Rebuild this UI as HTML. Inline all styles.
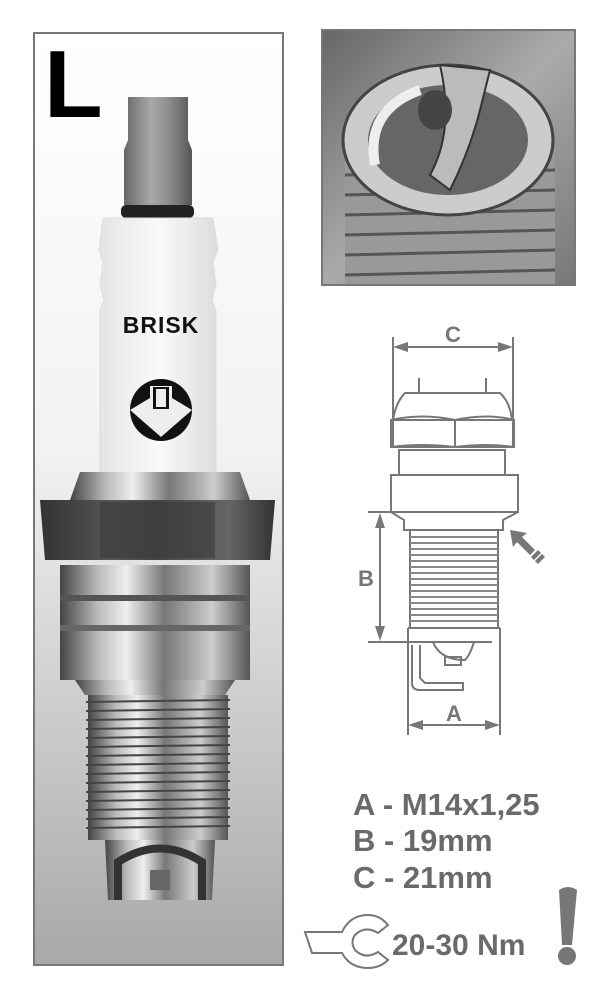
<!DOCTYPE html>
<html><head><style>
html,body{margin:0;padding:0;background:#fff;}
body{width:605px;height:1000px;position:relative;overflow:hidden;font-family:"Liberation Sans",sans-serif;}
</style></head><body>
<svg width="605" height="1000" viewBox="0 0 605 1000" xmlns="http://www.w3.org/2000/svg" style="position:absolute;left:0;top:0">
<defs>
<linearGradient id="bg" x1="0" y1="0" x2="0" y2="1">
<stop offset="0" stop-color="#ffffff"/><stop offset="0.45" stop-color="#f2f2f2"/><stop offset="1" stop-color="#a8a8a8"/>
</linearGradient>
<linearGradient id="metal" x1="0" y1="0" x2="1" y2="0">
<stop offset="0" stop-color="#444"/><stop offset="0.2" stop-color="#bbb"/><stop offset="0.35" stop-color="#eee"/><stop offset="0.55" stop-color="#777"/><stop offset="0.8" stop-color="#ccc"/><stop offset="1" stop-color="#555"/>
</linearGradient>
<linearGradient id="cap" x1="0" y1="0" x2="1" y2="0">
<stop offset="0" stop-color="#666"/><stop offset="0.4" stop-color="#aaa"/><stop offset="0.7" stop-color="#888"/><stop offset="1" stop-color="#555"/>
</linearGradient>
<linearGradient id="cer" x1="0" y1="0" x2="1" y2="0">
<stop offset="0" stop-color="#e4e4e4"/><stop offset="0.5" stop-color="#fafafa"/><stop offset="1" stop-color="#dcdcdc"/>
</linearGradient>
<linearGradient id="hex" x1="0" y1="0" x2="1" y2="0">
<stop offset="0" stop-color="#333"/><stop offset="0.3" stop-color="#555"/><stop offset="0.5" stop-color="#444"/><stop offset="0.8" stop-color="#666"/><stop offset="1" stop-color="#333"/>
</linearGradient>
<linearGradient id="photo" x1="0" y1="0" x2="1" y2="1">
<stop offset="0" stop-color="#666"/><stop offset="0.5" stop-color="#aaa"/><stop offset="1" stop-color="#777"/>
</linearGradient>
</defs>
<rect x="34" y="33" width="249" height="932" fill="url(#bg)" stroke="#777" stroke-width="2"/>
<text x="44" y="117" font-family="Liberation Sans" font-weight="bold" font-size="96" fill="#000">L</text>
<path d="M128 97 L188 97 L188 140 L192 150 L192 205 L124 205 L124 150 L128 140 Z" fill="url(#cap)"/>
<rect x="121" y="205" width="73" height="13" rx="5" fill="#222"/>
<path d="M103 218 L213 218 L218 250 L213 262 L216 285 L212 300 L216 310 L216 475 L100 475 L100 310 L104 300 L100 285 L103 262 L99 250 Z" fill="url(#cer)" stroke="#ddd"/>
<text x="161" y="333" text-anchor="middle" font-family="Liberation Sans" font-weight="bold" font-size="23" fill="#111" letter-spacing="1">BRISK</text>
<circle cx="161" cy="410" r="31" fill="#111"/>
<path d="M130 410 L150 398 L150 386 L172 386 L172 398 L192 410 L161 437 Z" fill="#eee"/>
<rect x="153" y="387" width="16" height="22" fill="#111"/><rect x="156" y="389" width="10" height="18" fill="#eee"/>
<path d="M80 472 L240 472 L250 500 L70 500 Z" fill="url(#metal)"/>
<path d="M40 500 L275 500 L270 560 L45 560 Z" fill="url(#hex)"/>
<rect x="100" y="502" width="115" height="56" fill="#3a3a3a" opacity="0.6"/>
<rect x="60" y="565" width="190" height="115" fill="url(#metal)"/>
<rect x="60" y="595" width="190" height="6" fill="#555"/>
<rect x="60" y="625" width="190" height="6" fill="#666"/>
<path d="M75 680 L235 680 L225 695 L85 695 Z" fill="url(#metal)"/>
<rect x="88" y="695" width="140" height="145" fill="url(#metal)"/>
<g stroke="#444" stroke-width="2">
<line x1="86" y1="702" x2="230" y2="700"/><line x1="86" y1="711" x2="230" y2="709"/><line x1="86" y1="720" x2="230" y2="718"/><line x1="86" y1="729" x2="230" y2="727"/><line x1="86" y1="738" x2="230" y2="736"/><line x1="86" y1="747" x2="230" y2="745"/><line x1="86" y1="756" x2="230" y2="754"/><line x1="86" y1="765" x2="230" y2="763"/><line x1="86" y1="774" x2="230" y2="772"/><line x1="86" y1="783" x2="230" y2="781"/><line x1="86" y1="792" x2="230" y2="790"/><line x1="86" y1="801" x2="230" y2="799"/><line x1="86" y1="810" x2="230" y2="808"/><line x1="86" y1="819" x2="230" y2="817"/><line x1="86" y1="828" x2="230" y2="826"/>
</g>
<path d="M105 840 L215 840 L212 900 L108 900 Z" fill="url(#metal)"/>
<path d="M118 900 L118 862 Q160 835 202 862 L202 900" fill="none" stroke="#333" stroke-width="8"/>
<rect x="150" y="870" width="20" height="20" fill="#666"/>
<rect x="322" y="30" width="253" height="255" fill="url(#photo)" stroke="#777" stroke-width="2"/>
<rect x="345" y="150" width="210" height="134" fill="#999"/>
<g stroke="#555" stroke-width="3">
<line x1="345" y1="175" x2="555" y2="170"/><line x1="345" y1="195" x2="555" y2="190"/><line x1="345" y1="215" x2="555" y2="210"/><line x1="345" y1="235" x2="555" y2="230"/><line x1="345" y1="255" x2="555" y2="250"/><line x1="345" y1="275" x2="555" y2="270"/>
</g>
<ellipse cx="448" cy="140" rx="105" ry="75" fill="#ccc" stroke="#444" stroke-width="3"/>
<ellipse cx="448" cy="140" rx="80" ry="55" fill="#666"/>
<path d="M375 165 Q365 110 420 90" fill="none" stroke="#eee" stroke-width="10"/>
<path d="M440 65 L490 70 L480 110 Q470 150 450 190 L430 175 Q455 130 440 65 Z" fill="#bbb" stroke="#333" stroke-width="2"/>
<ellipse cx="435" cy="110" rx="17" ry="20" fill="#444"/>
<g stroke="#777" stroke-width="2" fill="none">
<line x1="393" y1="337" x2="393" y2="447"/><line x1="513" y1="337" x2="513" y2="447"/>
<line x1="400" y1="347" x2="506" y2="347"/>
<line x1="419" y1="378" x2="419" y2="393"/><line x1="486" y1="378" x2="486" y2="393"/>
<path d="M405 393 L500 393 Q510 402 512 420 L393 420 Q396 402 405 393 Z"/>
<path d="M391 420 L514 420 L514 447 L391 447 Z"/>
<path d="M391 420 Q422 413 455 420 Q488 413 514 420"/>
<path d="M391 447 Q422 443 455 447 Q488 443 514 447"/>
<line x1="455" y1="420" x2="455" y2="447"/>
<rect x="399" y="450" width="106" height="25"/>
<rect x="391" y="475" width="127" height="37"/>
<path d="M391 512 L404 520 L404 530 L503 530 L503 520 L518 512"/>
<line x1="368" y1="512" x2="391" y2="512"/>
<line x1="380" y1="520" x2="380" y2="634"/>
<line x1="368" y1="642" x2="492" y2="642"/>
<line x1="410" y1="530" x2="410" y2="628"/><line x1="498" y1="530" x2="498" y2="628"/>
<path d="M408 628 L408 735 M500 628 L500 735 M408 628 L500 628"/>
<path d="M412 645 L412 683 Q412 690 420 690 L463 690 L463 683 L425 683 L420 678 L420 645"/>
<path d="M433 642 Q440 660 465 660 Q470 655 474 642"/>
<rect x="445" y="657" width="16" height="8"/>
<line x1="415" y1="725" x2="493" y2="725"/>
</g>
<g stroke="#888" stroke-width="2">
<line x1="410" y1="537" x2="498" y2="537"/><line x1="410" y1="543" x2="498" y2="543"/><line x1="410" y1="549" x2="498" y2="549"/><line x1="410" y1="555" x2="498" y2="555"/><line x1="410" y1="561" x2="498" y2="561"/><line x1="410" y1="567" x2="498" y2="567"/><line x1="410" y1="573" x2="498" y2="573"/><line x1="410" y1="579" x2="498" y2="579"/><line x1="410" y1="585" x2="498" y2="585"/><line x1="410" y1="591" x2="498" y2="591"/><line x1="410" y1="597" x2="498" y2="597"/><line x1="410" y1="603" x2="498" y2="603"/><line x1="410" y1="609" x2="498" y2="609"/><line x1="410" y1="615" x2="498" y2="615"/><line x1="410" y1="621" x2="498" y2="621"/>
</g>
<g fill="#777">
<path d="M393 347 L408 342 L408 352 Z"/><path d="M513 347 L498 342 L498 352 Z"/>
<path d="M380 513 L375 528 L385 528 Z"/><path d="M380 641 L375 626 L385 626 Z"/>
<path d="M408 725 L423 720 L423 730 Z"/><path d="M500 725 L485 720 L485 730 Z"/>
<path d="M510 530 L527 533 L522 537 L535 550 L530 555 L517 542 L513 547 Z"/>
<path d="M531 557 L538 550 L541 553 L534 560 Z"/><path d="M535 561 L542 554 L545 557 L538 564 Z"/>
</g>
<g font-family="Liberation Sans" font-weight="bold" fill="#777" text-anchor="middle">
<text x="453" y="342" font-size="22">C</text>
<text x="366" y="586" font-size="22">B</text>
<text x="454" y="721" font-size="22">A</text>
</g>
<g font-family="Liberation Sans" font-weight="bold" fill="#6a6a6a" font-size="31">
<text x="353" y="815">A - M14x1,25</text>
<text x="353" y="851">B - 19mm</text>
<text x="353" y="888">C - 21mm</text>
<text x="392" y="955" font-size="30">20-30 Nm</text>
</g>
<path d="M305 932 L342 932 Q350 915 368 915 Q380 915 388 925 L378 933 Q365 925 355 935 Q350 942 355 950 Q365 960 378 952 L388 960 Q380 968 368 968 Q350 968 342 953 L312 953 Z" fill="none" stroke="#777" stroke-width="2"/>
<path d="M559 890 Q568 884 577 890 L572 945 L562 945 Z" fill="#777"/>
<circle cx="567" cy="956" r="9" fill="#777"/>
</svg>
</body></html>
